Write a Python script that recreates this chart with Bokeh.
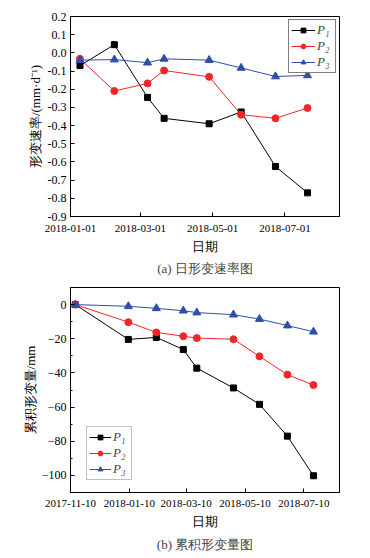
import pandas as pd
from bokeh.plotting import figure
from bokeh.layouts import column
from bokeh.models import (Range1d, FixedTicker, DatetimeTickFormatter, NumeralTickFormatter,
                          Legend, LegendItem, Title)
from bokeh.embed import file_html
from bokeh.resources import INLINE

# ---------------- data ----------------
rate_dates = ["2018-01-09", "2018-02-07", "2018-03-07", "2018-03-21",
              "2018-04-28", "2018-05-25", "2018-06-23", "2018-07-20"]
rate_p1 = [-0.07, 0.045, -0.245, -0.36, -0.39, -0.325, -0.625, -0.77]
rate_p2 = [-0.033, -0.21, -0.168, -0.097, -0.132, -0.34, -0.36, -0.303]
rate_p3 = [-0.04, -0.037, -0.054, -0.033, -0.04, -0.083, -0.13, -0.124]

cum_dates = ["2017-11-15", "2018-01-09", "2018-02-07", "2018-03-07", "2018-03-21",
             "2018-04-28", "2018-05-25", "2018-06-23", "2018-07-20"]
cum_p1 = [0, -20.4, -19.2, -26.3, -37.2, -48.8, -58.4, -77.0, -100.2]
cum_p2 = [0, -10.3, -16.3, -18.5, -19.6, -20.3, -30.3, -41.0, -47.1]
cum_p3 = [0, -1.0, -2.2, -3.6, -4.7, -5.9, -8.5, -12.3, -15.9]

rate_xticks = ["2018-01-01", "2018-03-01", "2018-05-01", "2018-07-01"]
rate_yticks = [0.2, 0.1, 0.0, -0.1, -0.2, -0.3, -0.4, -0.5, -0.6, -0.7, -0.8, -0.9]
cum_xticks = ["2017-11-10", "2018-01-10", "2018-03-10", "2018-05-10", "2018-07-10"]
cum_yticks = [0, -20, -40, -60, -80, -100]
cum_yminor = [0, -10, -20, -30, -40, -50, -60, -70, -80, -90, -100, -110]

series_labels = ["P\u2081", "P\u2082", "P\u2083"]
title_a = "(a) 日形变速率图"
title_b = "(b) 累积形变量图"
xlabel = "日期"
ylabel_a = "形变速率/(mm·d\u207b\u00b9)"
ylabel_b = "累积形变量/mm"

# --------------- styling ---------------
SERIF = "Liberation Serif"
COLORS = ["#000000", "#f0262b", "#2d4fa8"]
MARKERS = ["square", "circle", "triangle"]
MSIZES = [6, 7, 8]


def ms(s):
    return pd.Timestamp(s).value // 10**6


def dt(lst):
    return pd.to_datetime(lst)


def style(p, xticks, yticker, yfmt, xstand, ylstand):
    p.outline_line_color = "black"
    p.outline_line_width = 1
    p.xgrid.visible = False
    p.ygrid.visible = False
    p.xaxis.ticker = FixedTicker(ticks=[ms(t) for t in xticks])
    p.xaxis.formatter = DatetimeTickFormatter(
        milliseconds="%Y-%m-%d", seconds="%Y-%m-%d", minsec="%Y-%m-%d",
        minutes="%Y-%m-%d", hourmin="%Y-%m-%d", hours="%Y-%m-%d",
        days="%Y-%m-%d", months="%Y-%m-%d", years="%Y-%m-%d")
    p.yaxis.ticker = yticker
    if yfmt is not None:
        p.yaxis.formatter = yfmt
    for ax in (p.xaxis[0], p.yaxis[0]):
        ax.major_tick_in = 4
        ax.major_tick_out = 0
        ax.minor_tick_in = 2
        ax.minor_tick_out = 0
        ax.axis_line_color = "black"
        ax.major_tick_line_color = "black"
        ax.minor_tick_line_color = "black"
        ax.major_label_text_font = SERIF
        ax.major_label_text_color = "black"
        ax.axis_label_text_font = SERIF
        ax.axis_label_text_font_style = "normal"
        ax.axis_label_text_font_size = "13px"
        ax.axis_label_text_color = "black"
    p.xaxis.major_label_text_font_size = "11px"
    p.yaxis.major_label_text_font_size = "12px"
    p.xaxis.major_label_standoff = xstand
    p.yaxis.major_label_standoff = 4
    p.xaxis.axis_label_standoff = 4
    p.yaxis.axis_label_standoff = ylstand


def draw(p, xs, ys_list):
    items = []
    for ys, c, m, s, lab in zip(ys_list, COLORS, MARKERS, MSIZES, series_labels):
        r1 = p.line(xs, ys, line_color=c, line_width=1)
        r2 = p.scatter(xs, ys, marker=m, size=s, fill_color=c, line_color=c)
        items.append(LegendItem(label=lab, renderers=[r1, r2]))
    return items


def legend(items, loc, border, margin, gw):
    lg = Legend(items=items, location=loc, label_text_font=SERIF,
                label_text_font_style="italic", label_text_font_size="13px",
                glyph_width=gw, glyph_height=12, label_height=12, label_width=16,
                label_standoff=2, spacing=-2, padding=2, margin=margin,
                border_line_color=border, border_line_width=1,
                background_fill_alpha=1)
    return lg


# --------------- figure (a) ---------------
p1 = figure(width=354, height=280, x_axis_type="datetime",
            x_range=Range1d(ms("2018-01-01"), ms("2018-08-16")),
            y_range=Range1d(-0.9, 0.2),
            output_backend="svg", toolbar_location=None,
            min_border_left=70, min_border_right=15, min_border_top=16,
            min_border_bottom=64)
style(p1, rate_xticks, FixedTicker(ticks=rate_yticks),
      NumeralTickFormatter(format="0.0"), 8, 2)
p1.xaxis.axis_label = xlabel
p1.yaxis.axis_label = ylabel_a
items1 = draw(p1, dt(rate_dates), [rate_p1, rate_p2, rate_p3])
p1.add_layout(legend(items1, "top_right", "black", 3, 24))
p1.add_layout(Title(text=title_a, align="center", text_font=SERIF,
                    text_font_size="13px", text_font_style="normal",
                    standoff=4), "below")

# --------------- figure (b) ---------------
p2 = figure(width=354, height=275, x_axis_type="datetime",
            x_range=Range1d(ms("2017-11-10"), ms("2018-08-16")),
            y_range=Range1d(-110, 10),
            output_backend="svg", toolbar_location=None,
            min_border_left=70, min_border_right=8, min_border_top=7,
            min_border_bottom=63)
style(p2, cum_xticks, FixedTicker(ticks=cum_yticks, minor_ticks=cum_yminor),
      None, 7, 1)
p2.xaxis.axis_label = xlabel
p2.yaxis.axis_label = ylabel_b
items2 = draw(p2, dt(cum_dates), [cum_p1, cum_p2, cum_p3])
p2.add_layout(legend(items2, (16, 12), "#808080", 0, 22))
p2.add_layout(Title(text=title_b, align="center", text_font=SERIF,
                    text_font_size="13px", text_font_style="normal",
                    standoff=6), "below")

page = column(p1, p2, spacing=0)
open("out.html", "w").write(file_html(page, INLINE))
